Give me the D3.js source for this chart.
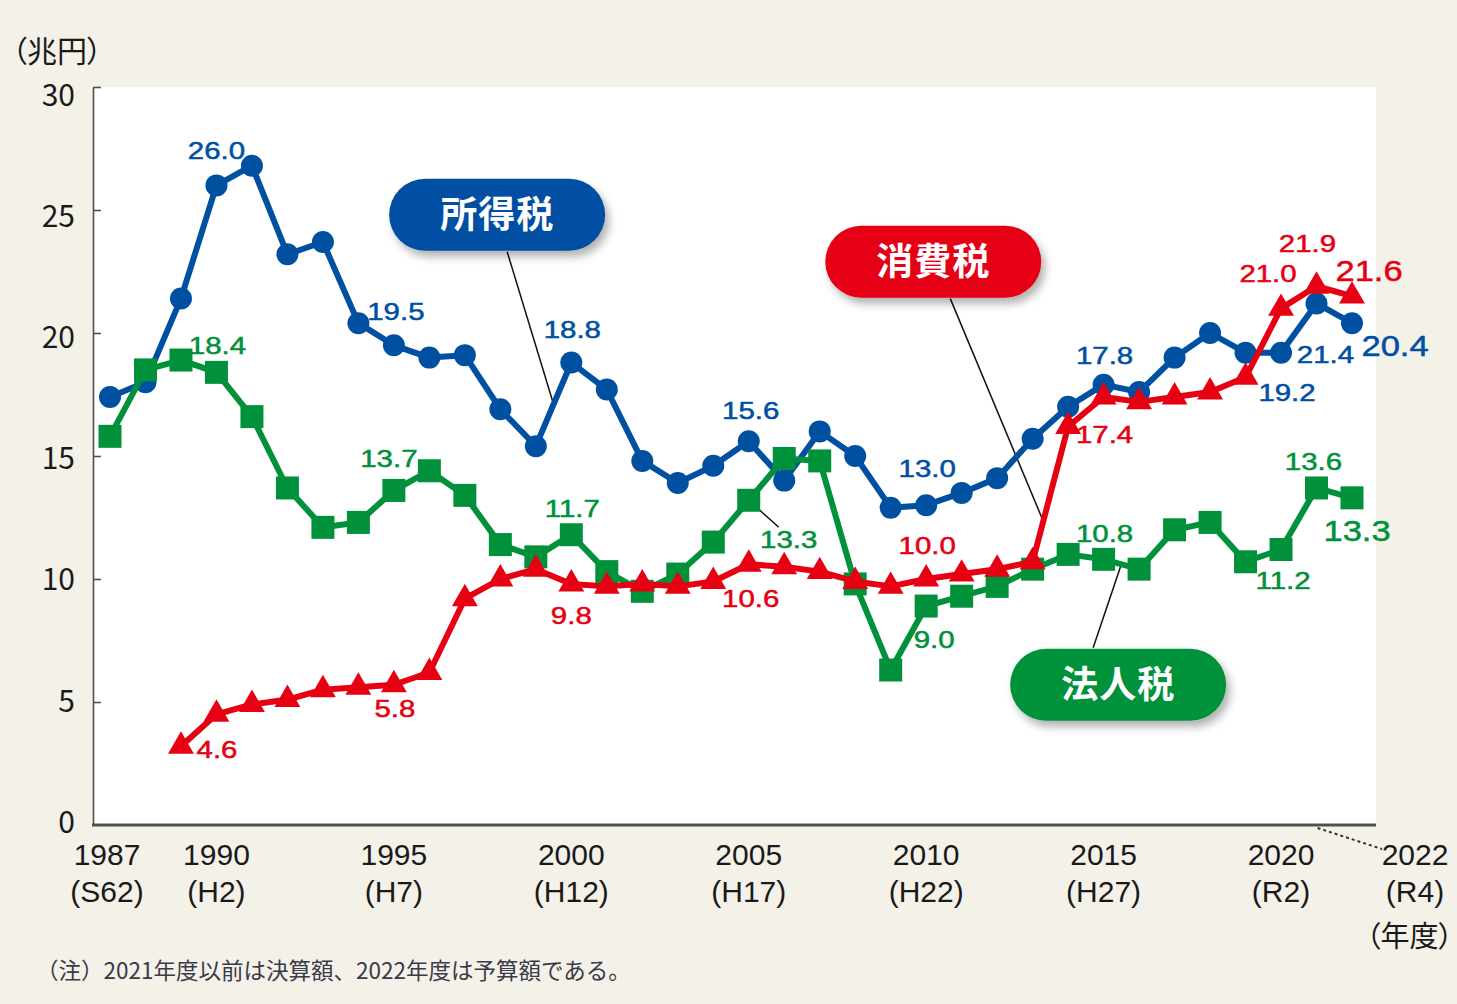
<!DOCTYPE html>
<html><head><meta charset="utf-8">
<script src="https://cdn.jsdelivr.net/npm/d3@7"></script>
<style>
body{margin:0;background:#f4f1e9;}
svg{display:block}
.cjk{font-family:"Noto Sans CJK JP","Noto Sans",sans-serif;}
.lat{font-family:"Liberation Sans",Arial,sans-serif;}
</style></head><body>
<svg id="c" width="1457" height="1004"></svg>
<script>
// ---------------- DATA ----------------
const years = d3.range(1987, 2023);
const incomeTax = [17.4, 18.0, 21.4, 26.0, 26.8, 23.2, 23.7, 20.4, 19.5, 19.0, 19.1, 16.9, 15.4,
  18.8, 17.7, 14.8, 13.9, 14.6, 15.6, 14.0, 16.0, 15.0, 12.9, 13.0, 13.5, 14.1, 15.7, 17.0,
  17.9, 17.6, 19.0, 20.0, 19.2, 19.2, 21.2, 20.4];
const corporateTax = [15.8, 18.5, 18.9, 18.4, 16.6, 13.7, 12.1, 12.3, 13.6, 14.4, 13.4, 11.4, 10.9,
  11.8, 10.3, 9.5, 10.2, 11.5, 13.2, 14.9, 14.8, 9.8, 6.3, 8.9, 9.3, 9.7, 10.4, 11.0,
  10.8, 10.4, 12.0, 12.3, 10.7, 11.2, 13.7, 13.3];
const consumptionYears = d3.range(1989, 2023);
const consumptionTax = [3.2, 4.5, 4.9, 5.1, 5.5, 5.6, 5.7, 6.2, 9.2, 10.0, 10.4,
  9.8, 9.7, 9.8, 9.7, 9.9, 10.6, 10.5, 10.3, 9.9, 9.7, 10.0, 10.2, 10.4, 10.7, 16.2,
  17.4, 17.2, 17.4, 17.6, 18.2, 21.0, 21.9, 21.5];

const xTickYears = [1987, 1990, 1995, 2000, 2005, 2010, 2015, 2020, 2022];
const xTickEras = ["(S62)", "(H2)", "(H7)", "(H12)", "(H17)", "(H22)", "(H27)", "(R2)", "(R4)"];
const yTicks = [0, 5, 10, 15, 20, 25, 30];

const seriesNames = ["所得税", "法人税", "消費税"];
const unitLabel = "（兆円）";
const yearUnitLabel = "（年度）";
const footnote = "（注）2021年度以前は決算額、2022年度は予算額である。";

// value labels: [year, text]
const incomeLabels = [[1990,"26.0"],[1995,"19.5"],[2000,"18.8"],[2005,"15.6"],[2010,"13.0"],
  [2015,"17.8"],[2020,"19.2"],[2021,"21.4"],[2022,"20.4"]];
const corporateLabels = [[1990,"18.4"],[1995,"13.7"],[2000,"11.7"],[2005,"13.3"],[2010,"9.0"],
  [2015,"10.8"],[2020,"11.2"],[2021,"13.6"],[2022,"13.3"]];
const consumptionLabels = [[1989,"4.6"],[1995,"5.8"],[2000,"9.8"],[2005,"10.6"],[2010,"10.0"],
  [2015,"17.4"],[2020,"21.0"],[2021,"21.9"],[2022,"21.6"]];

// ---------------- LAYOUT / STYLE ----------------
const W = 1457, H = 1004;
const plot = {left: 93, right: 1376, top: 87, bottom: 825};
const colors = {income: "#0050a2", corporate: "#00913a", consumption: "#e60012"};
const axisColor = "#505050";
const textColor = "#1a1a1a";

// label placement offsets (px) relative to point: dx, dy(baseline), big?
const incomeLabelPos = {1990:[0,-26], 1995:[2,-25], 2000:[1,-25], 2005:[2,-22], 2010:[1,-28],
  2015:[1,-21], 2020:[6,48], 2021:[9,60], 2022:[43,33,true]};
const corporateLabelPos = {1990:[1,-18], 1995:[-5,-23], 2000:[1,-18], 2005:[40,48], 2010:[8,42],
  2015:[1,-17], 2020:[2,40], 2021:[-3,-18], 2022:[5,43,true]};
const consumptionLabelPos = {1989:[36,12], 1995:[1,32], 2000:[0,40], 2005:[2,43], 2010:[1,-25],
  2015:[1,46], 2020:[-13,-26], 2021:[-9,-34], 2022:[17,-15,true]};

const svg = d3.select("#c");

const xs = d3.scaleLinear().domain([1987, 2022]).range([110, 1352]);
const ys = d3.scaleLinear().domain([0, 30]).range([plot.bottom, plot.top]);
const yLab = d3.scaleLinear().domain([0, 30]).range([822, 95]);

// background
svg.append("rect").attr("width", W).attr("height", H).attr("fill", "#f4f1e9");
svg.append("rect").attr("x", plot.left).attr("y", plot.top)
  .attr("width", plot.right - plot.left).attr("height", plot.bottom - plot.top).attr("fill", "#fff");

// filters
const defs = svg.append("defs");
const f = defs.append("filter").attr("id", "sh").attr("x", "-20%").attr("y", "-30%").attr("width", "140%").attr("height", "170%");
f.append("feDropShadow").attr("dx", 4).attr("dy", 6).attr("stdDeviation", 4)
  .attr("flood-color", "#000").attr("flood-opacity", 0.3);

// y axis
const yAxis = d3.axisLeft(ys).tickValues(yTicks.filter(d => d > 0)).tickSizeInner(-8).tickSizeOuter(0).tickFormat("");
const gy = svg.append("g").attr("transform", `translate(${plot.left},0)`).call(yAxis);
gy.select(".domain").attr("stroke", axisColor).attr("stroke-width", 1.6);
gy.selectAll(".tick line").attr("stroke", axisColor).attr("stroke-width", 1.6);

svg.append("g").selectAll("text").data(yTicks).join("text")
  .attr("class", "cjk")
  .attr("x", 75).attr("y", d => yLab(d)).attr("dy", "0.36em")
  .attr("text-anchor", "end").attr("font-size", 30).attr("fill", textColor)
  .text(d => d);

// x axis baseline
svg.append("line").attr("x1", plot.left - 1).attr("x2", plot.right).attr("y1", plot.bottom).attr("y2", plot.bottom)
  .attr("stroke", axisColor).attr("stroke-width", 3);

const xLabelShift = {1987: -3, 2022: 63};
const gx = svg.append("g").attr("class", "lat").attr("fill", textColor);
gx.selectAll("text.yr").data(xTickYears).join("text").attr("class", "yr")
  .attr("x", d => xs(d) + (xLabelShift[d] || 0)).attr("y", 865)
  .attr("text-anchor", "middle").attr("font-size", 30).text(d => d);
gx.selectAll("text.era").data(xTickYears).join("text").attr("class", "era")
  .attr("x", d => xs(d) + (xLabelShift[d] || 0)).attr("y", 902)
  .attr("text-anchor", "middle").attr("font-size", 30)
  .text((d, i) => xTickEras[i]);

// dotted leader to 2022 label
svg.append("line").attr("x1", xs(2021) + 1).attr("y1", 828).attr("x2", xs(2022) + 30).attr("y2", 849)
  .attr("stroke", "#333").attr("stroke-width", 2).attr("stroke-dasharray", "3,3");

// unit labels
svg.append("text").attr("class", "cjk").attr("x", 12).attr("y", 62).attr("font-size", 30)
  .attr("fill", textColor).style("font-feature-settings", "'palt'").text(unitLabel);
svg.append("text").attr("class", "cjk").attr("x", 1453).attr("y", 947).attr("font-size", 29)
  .attr("text-anchor", "end").attr("fill", textColor).style("font-feature-settings", "'palt'").text(yearUnitLabel);
svg.append("text").attr("class", "cjk").attr("x", 36).attr("y", 979).attr("font-size", 22.5)
  .attr("fill", "#3a3a48").text(footnote);

// ---------------- annotations (leader lines + pills) ----------------
function lerp(arr, yrs, yr) {
  const i = Math.floor(yr) - yrs[0], t = yr - Math.floor(yr);
  return arr[i] + (arr[i + 1] - arr[i]) * t;
}
const leaders = [
  {box: [1997.91, 24.81], target: [1999.5, lerp(incomeTax, years, 1999.5)], from: [10, 37]},
  {box: [2010.2, 22.9], target: [2013.3, lerp(consumptionTax, consumptionYears, 2013.3)], from: [17, 37]},
  {box: [2015.41, 5.7], target: [2015.5, lerp(corporateTax, years, 2015.5)], from: [-25, -37]},
];
const gLead = svg.append("g");
leaders.forEach(l => {
  gLead.append("line")
    .attr("x1", xs(l.box[0]) + l.from[0]).attr("y1", ys(l.box[1]) + l.from[1])
    .attr("x2", xs(l.target[0])).attr("y2", ys(l.target[1]))
    .attr("stroke", "#111").attr("stroke-width", 1.5);
});
// 13.3 leader
svg.append("line").attr("x1", xs(2005)).attr("y1", ys(corporateTax[years.indexOf(2005)]))
  .attr("x2", xs(2005) + 30).attr("y2", ys(corporateTax[years.indexOf(2005)]) + 27)
  .attr("stroke", "#111").attr("stroke-width", 1.5);

// ---------------- series ----------------
const line = d3.line().x(d => xs(d[0])).y(d => ys(d[1])).curve(d3.curveLinear);

function drawSeries(yrs, vals, color, shape) {
  const pts = yrs.map((y, i) => [y, vals[i]]);
  const g = svg.append("g");
  g.append("path").attr("d", line(pts)).attr("fill", "none").attr("stroke", color)
    .attr("stroke-width", 6).attr("stroke-linejoin", "round");
  const sym = d3.symbol().type(shape === "circle" ? d3.symbolCircle : shape === "square" ? d3.symbolSquare : d3.symbolTriangle)
    .size(shape === "circle" ? Math.PI * 11 * 11 : shape === "square" ? 23 * 23 : 290);
  g.selectAll("path.m").data(pts).join("path").attr("class", "m")
    .attr("transform", d => `translate(${xs(d[0])},${ys(d[1])})`)
    .attr("d", sym).attr("fill", color);
}
drawSeries(years, incomeTax, colors.income, "circle");
drawSeries(years, corporateTax, colors.corporate, "square");
drawSeries(consumptionYears, consumptionTax, colors.consumption, "triangle");

// ---------------- pills ----------------
const pillColors = [colors.income, colors.consumption, colors.corporate];
const pillNames = [seriesNames[0], seriesNames[2], seriesNames[1]];
leaders.forEach((l, i) => {
  const cx = xs(l.box[0]), cy = ys(l.box[1]);
  const g = svg.append("g").attr("transform", `translate(${cx},${cy})`);
  g.append("rect").attr("x", -108).attr("y", -36).attr("width", 216).attr("height", 72)
    .attr("rx", 36).attr("fill", pillColors[i]).attr("filter", "url(#sh)");
  g.append("text").attr("class", "cjk").attr("text-anchor", "middle").attr("y", 13)
    .attr("font-size", 37).attr("font-weight", 700).attr("fill", "#fff")
    .attr("letter-spacing", 1).text(pillNames[i]);
});

// ---------------- value labels ----------------
function drawLabels(yrs, vals, labels, pos, color) {
  const g = svg.append("g");
  labels.forEach(([yr, txt]) => {
    const v = vals[yrs.indexOf(yr)];
    const p = pos[yr];
    const big = !!p[2];
    g.append("text")
      .attr("transform", `translate(${xs(yr) + p[0]},${ys(v) + p[1]}) scale(${big ? 1.15 : 1.28},1)`)
      .attr("text-anchor", "middle")
      .attr("font-family", "'Liberation Sans', Arial, sans-serif")
      .attr("font-size", big ? 30 : 23)
      .attr("fill", color).attr("stroke", color).attr("stroke-width", 0.5)
      .text(txt);
  });
}
drawLabels(years, incomeTax, incomeLabels, incomeLabelPos, colors.income);
drawLabels(years, corporateTax, corporateLabels, corporateLabelPos, colors.corporate);
drawLabels(consumptionYears, consumptionTax, consumptionLabels, consumptionLabelPos, colors.consumption);
</script>
</body></html>
